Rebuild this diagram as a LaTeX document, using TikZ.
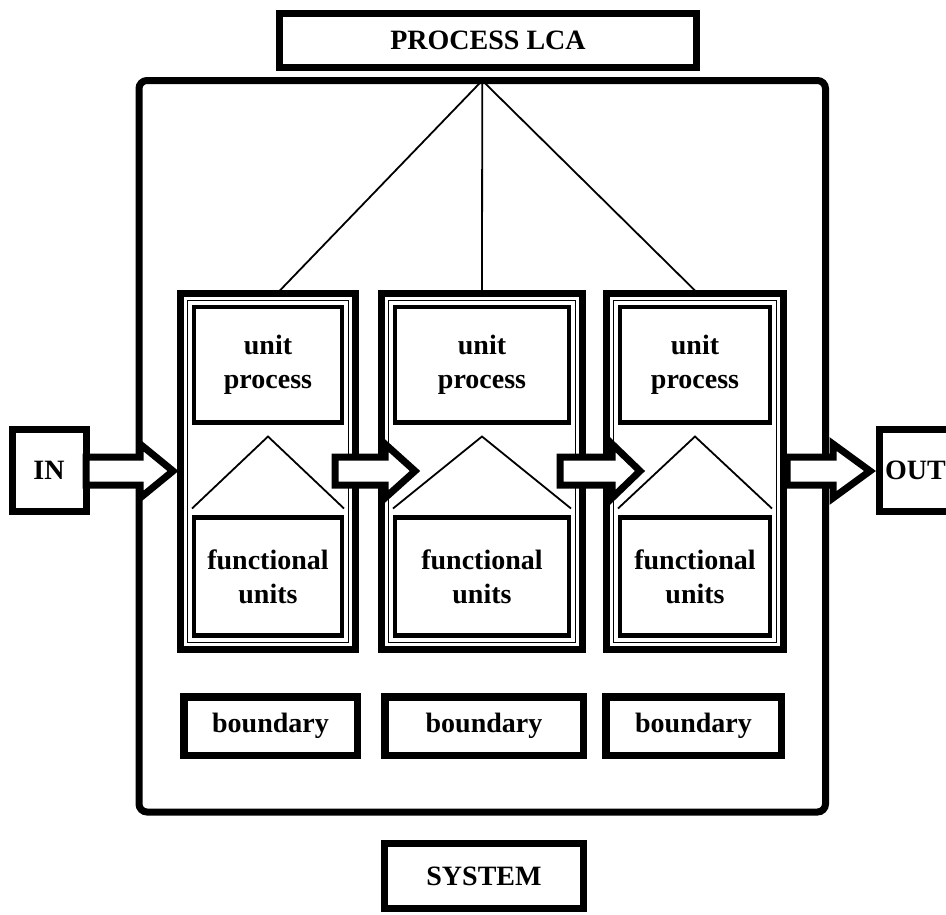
\documentclass[tikz,border=0pt]{standalone}
\usepackage{fontspec}
\setmainfont{Liberation Serif}
\usetikzlibrary{calc}
\tikzset{
  lbl/.style={font=\bfseries\fontsize{28}{34}\selectfont,align=center},
  sysframe/.style={draw=black,line width=7pt,rounded corners=8pt,
                   outer sep=0pt,inner sep=0pt},
  titlebox/.style={lbl,draw=black,fill=white,line width=7pt,
                   outer sep=0pt,inner sep=0pt},
  blockframe/.style={draw=black,fill=white,line width=7pt,
                     outer sep=0pt,inner sep=0pt},
  unitbox/.style={lbl,draw=black,fill=white,line width=4.5pt,
                  outer sep=0pt,inner sep=0pt},
  bndbox/.style={lbl,draw=black,fill=white,line width=7.5pt,
                 outer sep=0pt,inner sep=0pt},
  thinline/.style={draw=black,line width=1.8pt},
  linkline/.style={draw=black,line width=1.8pt},
  flowarrow/.style={draw=black,fill=white,line width=7pt,
                    line join=miter}
}

\begin{document}
\begin{tikzpicture}[x=1pt,y=-1pt]
    \clip (0,0) rectangle (946,914);
    % system frame
    \node[sysframe,minimum width=686.5,minimum height=731.5] (frame)
      at (482.25,446.25) {};

    \node[titlebox,minimum width=417,minimum height=54] (lca)
      at (488,40.5) {PROCESS LCA};
    \node[titlebox,minimum width=199,minimum height=65] (sys)
      at (484,876) {SYSTEM};
    \node[titlebox,minimum width=74,minimum height=82] (in)
      at (49,470) {IN};
    \node[titlebox,anchor=west,minimum height=82,text width=88,
          inner xsep=6pt,align=left] (out) at (879,470) {OUT};

    % unit process blocks
    \foreach \i/\cx/\w/\dx in {1/268/175/9, 2/482/201/0, 3/695/177/3}{
      \node[blockframe,minimum width=\w,minimum height=356] (blk\i)
        at (\cx,471.5) {};
      \draw[thinline] ($(blk\i.north west)+(7,7)$)
        rectangle ($(blk\i.south east)+(-7,-7)$);
      \node[unitbox,minimum width=\w-27,minimum height=115.5] (unit\i)
        at (\cx,364.75) {unit\\process};
      \node[unitbox,minimum width=\w-27,minimum height=118] (func\i)
        at (\cx,576.5) {functional\\units};
      \draw[thinline] ($(func\i.north west)+(-2,-9)$)
        -- ($(unit\i.south)+(0,14)$) -- ($(func\i.north east)+(2,-9)$);
      \draw[linkline] (frame.north) -- ([xshift=\dx]blk\i.north);
    }

    \foreach \i/\cx/\w in {1/270.5/173.5, 2/484/198.5, 3/693.5/175.5}{
      \node[bndbox,minimum width=\w,minimum height=58.5] (bnd\i)
        at (\cx,726) {boundary};
    }

    % flow arrows
    \foreach \xs/\xb/\xt in {86/140/173, 335/385/415, 560/612/640, 787/833/870}{
      \draw[flowarrow] (\xs,457) -- (\xb,457) -- (\xb,444) -- (\xt,471)
        -- (\xb,498) -- (\xb,485) -- (\xs,485) -- cycle;
    }
  \end{tikzpicture}
\end{document}
